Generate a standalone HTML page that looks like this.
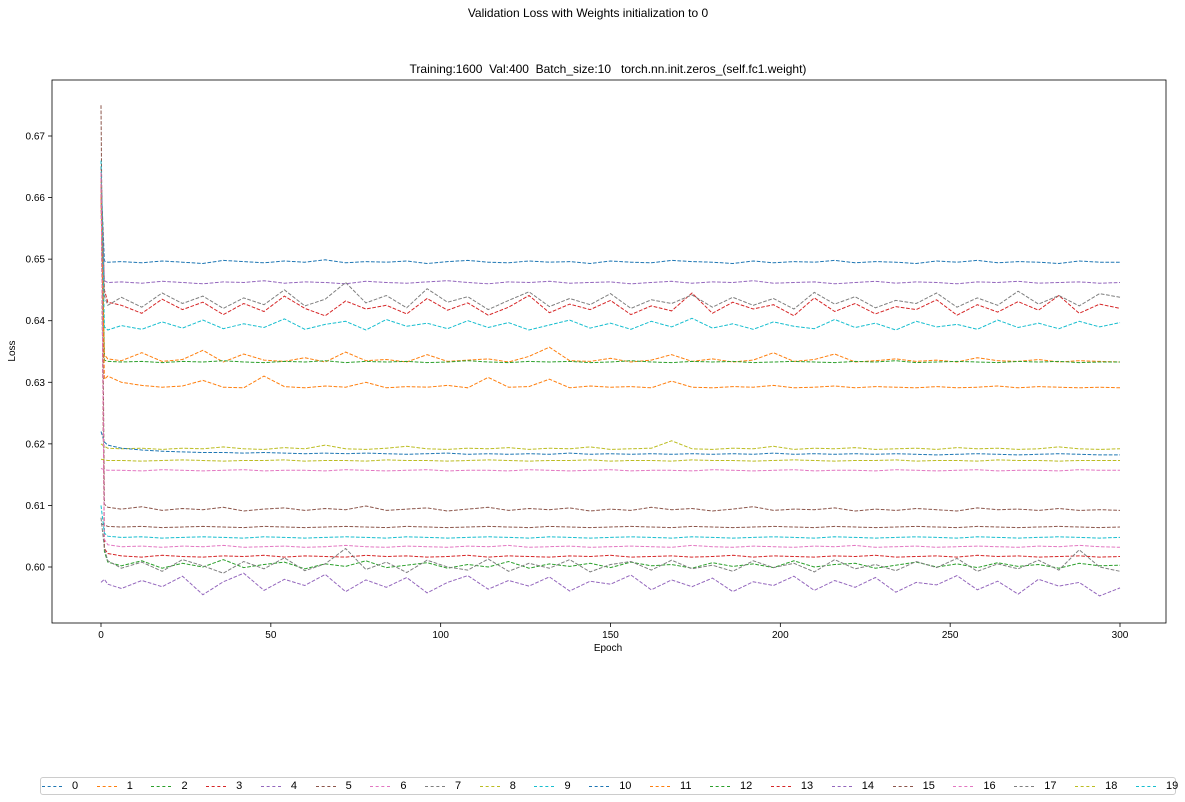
<!DOCTYPE html>
<html><head><meta charset="utf-8"><style>
body{margin:0;background:#fff;font-family:"Liberation Sans","DejaVu Sans",sans-serif;}
#wrap{position:relative;width:1185px;height:802px;overflow:hidden;}
.legend{position:absolute;left:40px;top:777px;width:1136px;height:18px;border:1px solid #ccc;border-radius:3px;display:flex;align-items:center;font-size:11px;color:#000;box-sizing:border-box;padding-left:1px;}
.le{display:flex;align-items:center;margin-right:18.6px;}
.sw{width:20px;height:0;border-top:1px dashed;margin-right:10px;}
</style></head><body><div id="wrap">
<svg id="chart" width="1185" height="802" style="position:absolute;left:0;top:0">
<text x="588" y="17" text-anchor="middle" font-size="12">Validation Loss with Weights initialization to 0</text>
<text x="608" y="73" text-anchor="middle" font-size="12" style="white-space:pre" xml:space="preserve">Training:1600  Val:400  Batch_size:10   torch.nn.init.zeros_(self.fc1.weight)</text>
<g id="ticks"></g><g id="lines"></g>
<rect x="52" y="80" width="1114" height="543" fill="none" stroke="#000" stroke-width="0.8"/>
<text x="608" y="651" text-anchor="middle" font-size="10">Epoch</text>
<text transform="translate(15,351) rotate(-90)" text-anchor="middle" font-size="10">Loss</text>
</svg>
<div class="legend" id="legend"></div>
</div>
<script>
const epochs=[0,1,2,6,12,18,24,30,36,42,48,54,60,66,72,78,84,90,96,102,108,114,120,126,132,138,144,150,156,162,168,174,180,186,192,198,204,210,216,222,228,234,240,246,252,258,264,270,276,282,288,294,300];
const xTicks=[0,50,100,150,200,250,300];
const yTicks=[0.60,0.61,0.62,0.63,0.64,0.65,0.66,0.67];
const yTickLabels=["0.60","0.61","0.62","0.63","0.64","0.65","0.66","0.67"];
const colors=["#1f77b4","#ff7f0e","#2ca02c","#d62728","#9467bd","#8c564b","#e377c2","#7f7f7f","#bcbd22","#17becf","#1f77b4","#ff7f0e","#2ca02c","#d62728","#9467bd","#8c564b","#e377c2","#7f7f7f","#bcbd22","#17becf"];
const s0=[0.663,0.6497,0.6495,0.6496,0.6494,0.6497,0.6495,0.6493,0.6498,0.6496,0.6494,0.6497,0.6495,0.6499,0.6494,0.6496,0.6495,0.6497,0.6493,0.6496,0.6498,0.6495,0.6494,0.6497,0.6495,0.6496,0.6493,0.6497,0.6495,0.6494,0.6498,0.6496,0.6495,0.6493,0.6497,0.6494,0.6496,0.6495,0.6498,0.6494,0.6496,0.6495,0.6493,0.6497,0.6495,0.6498,0.6494,0.6496,0.6495,0.6493,0.6497,0.6495,0.6495];
const s1=[0.660,0.6345,0.6338,0.6335,0.6348,0.6334,0.6337,0.6352,0.6333,0.6346,0.6336,0.6334,0.6340,0.6333,0.6349,0.6335,0.6337,0.6333,0.6345,0.6334,0.6336,0.6338,0.6333,0.6342,0.6357,0.6335,0.6334,0.6339,0.6333,0.6336,0.6345,0.6334,0.6338,0.6333,0.6336,0.6348,0.6334,0.6337,0.6346,0.6333,0.6335,0.6338,0.6334,0.6336,0.6333,0.6340,0.6335,0.6334,0.6337,0.6333,0.6335,0.6334,0.6333];
const s2=[0.664,0.6336,0.6334,0.6333,0.6334,0.6332,0.6334,0.6333,0.6335,0.6333,0.6332,0.6334,0.6333,0.6335,0.6332,0.6334,0.6333,0.6334,0.6332,0.6333,0.6335,0.6333,0.6332,0.6334,0.6333,0.6334,0.6332,0.6333,0.6335,0.6333,0.6332,0.6334,0.6333,0.6334,0.6332,0.6333,0.6334,0.6333,0.6332,0.6334,0.6333,0.6335,0.6332,0.6333,0.6334,0.6333,0.6332,0.6334,0.6333,0.6334,0.6332,0.6333,0.6333];
const s3=[0.665,0.645,0.643,0.6425,0.6412,0.6435,0.6418,0.6430,0.6410,0.6428,0.6415,0.6440,0.6420,0.6408,0.6432,0.6419,0.6425,0.6411,0.6436,0.6417,0.6429,0.6409,0.6422,0.6441,0.6413,0.6427,0.6418,0.6433,0.6410,0.6424,0.6416,0.6445,0.6412,0.6430,0.6419,0.6426,0.6408,0.6437,0.6415,0.6428,0.6411,0.6423,0.6418,0.6434,0.6409,0.6426,0.6414,0.6431,0.6417,0.6441,0.6412,0.6427,0.6420];
const s4=[0.662,0.6465,0.6462,0.6463,0.6461,0.6464,0.6462,0.6460,0.6463,0.6462,0.6465,0.6461,0.6463,0.6462,0.6460,0.6464,0.6462,0.6461,0.6463,0.6465,0.6462,0.6460,0.6463,0.6462,0.6464,0.6461,0.6462,0.6463,0.6460,0.6462,0.6464,0.6461,0.6463,0.6462,0.6465,0.6461,0.6462,0.6463,0.6460,0.6462,0.6464,0.6461,0.6463,0.6462,0.6460,0.6463,0.6462,0.6464,0.6461,0.6462,0.6463,0.6461,0.6462];
const s5=[0.675,0.6102,0.6097,0.6094,0.6098,0.6092,0.6095,0.6093,0.6097,0.6091,0.6094,0.6096,0.6092,0.6095,0.6093,0.6099,0.6092,0.6094,0.6096,0.6091,0.6094,0.6097,0.6092,0.6095,0.6093,0.6096,0.6091,0.6094,0.6092,0.6097,0.6093,0.6095,0.6091,0.6094,0.6098,0.6092,0.6094,0.6093,0.6096,0.6091,0.6094,0.6092,0.6095,0.6093,0.6091,0.6096,0.6093,0.6094,0.6092,0.6095,0.6092,0.6093,0.6092];
const s6=[0.6160,0.6158,0.6157,0.6157,0.6156,0.6158,0.6157,0.6156,0.6157,0.6158,0.6156,0.6157,0.6157,0.6156,0.6158,0.6157,0.6156,0.6157,0.6158,0.6156,0.6157,0.6157,0.6156,0.6158,0.6157,0.6156,0.6157,0.6158,0.6156,0.6157,0.6157,0.6156,0.6158,0.6157,0.6156,0.6157,0.6158,0.6156,0.6157,0.6157,0.6156,0.6158,0.6157,0.6156,0.6157,0.6158,0.6156,0.6157,0.6157,0.6156,0.6158,0.6157,0.6157];
const s7=[0.664,0.6440,0.6425,0.6438,0.6422,0.6445,0.6428,0.6440,0.6420,0.6437,0.6426,0.6450,0.6424,0.6435,0.6462,0.6429,0.6441,0.6421,0.6452,0.6430,0.6439,0.6418,0.6433,0.6447,0.6423,0.6436,0.6426,0.6444,0.6420,0.6434,0.6428,0.6442,0.6422,0.6438,0.6425,0.6436,0.6419,0.6446,0.6427,0.6439,0.6421,0.6433,0.6428,0.6445,0.6422,0.6437,0.6425,0.6448,0.6427,0.6441,0.6424,0.6444,0.6438];
const s8=[0.6200,0.6196,0.6193,0.6192,0.6193,0.6191,0.6193,0.6192,0.6195,0.6192,0.6191,0.6194,0.6192,0.6198,0.6192,0.6191,0.6193,0.6196,0.6192,0.6191,0.6193,0.6192,0.6194,0.6191,0.6193,0.6192,0.6195,0.6191,0.6192,0.6193,0.6205,0.6192,0.6191,0.6193,0.6192,0.6196,0.6191,0.6193,0.6192,0.6194,0.6191,0.6192,0.6193,0.6191,0.6194,0.6192,0.6193,0.6191,0.6192,0.6195,0.6192,0.6191,0.6192];
const s9=[0.666,0.6390,0.6385,0.6392,0.6386,0.6398,0.6388,0.6401,0.6387,0.6395,0.6389,0.6403,0.6386,0.6394,0.6399,0.6385,0.6402,0.6391,0.6396,0.6387,0.6400,0.6389,0.6397,0.6385,0.6393,0.6401,0.6388,0.6396,0.6386,0.6399,0.6390,0.6404,0.6388,0.6395,0.6386,0.6398,0.6391,0.6387,0.6402,0.6389,0.6396,0.6385,0.6399,0.6390,0.6394,0.6386,0.6401,0.6389,0.6396,0.6387,0.6399,0.6390,0.6397];
const s10=[0.6220,0.6203,0.6198,0.6193,0.6190,0.6188,0.6187,0.6186,0.6186,0.6185,0.6186,0.6185,0.6184,0.6185,0.6184,0.6185,0.6184,0.6183,0.6184,0.6185,0.6183,0.6184,0.6183,0.6184,0.6183,0.6185,0.6183,0.6184,0.6183,0.6184,0.6183,0.6184,0.6183,0.6184,0.6183,0.6185,0.6183,0.6184,0.6183,0.6184,0.6183,0.6184,0.6183,0.6182,0.6183,0.6184,0.6183,0.6182,0.6183,0.6184,0.6183,0.6182,0.6182];
const s11=[0.663,0.6305,0.6310,0.6300,0.6295,0.6292,0.6294,0.6303,0.6292,0.6291,0.6310,0.6293,0.6291,0.6294,0.6292,0.6300,0.6291,0.6293,0.6292,0.6295,0.6291,0.6308,0.6292,0.6293,0.6305,0.6291,0.6294,0.6292,0.6293,0.6291,0.6302,0.6292,0.6291,0.6293,0.6292,0.6295,0.6291,0.6292,0.6294,0.6291,0.6293,0.6292,0.6291,0.6293,0.6291,0.6292,0.6294,0.6291,0.6293,0.6292,0.6291,0.6292,0.6291];
const s12=[0.6640,0.6025,0.6008,0.6002,0.6010,0.5998,0.6006,0.6000,0.6012,0.5999,0.6004,0.6008,0.5997,0.6005,0.6001,0.6010,0.5999,0.6003,0.6007,0.5998,0.6004,0.6000,0.6009,0.5998,0.6005,0.6001,0.6006,0.5999,0.6008,0.6002,0.6004,0.5998,0.6007,0.6001,0.6005,0.5999,0.6010,0.6000,0.6004,0.6006,0.5998,0.6003,0.6008,0.6000,0.6005,0.5999,0.6007,0.6001,0.6004,0.5998,0.6006,0.6002,0.6003];
const s13=[0.6640,0.6030,0.6022,0.6018,0.6016,0.6019,0.6017,0.6016,0.6018,0.6017,0.6019,0.6016,0.6018,0.6017,0.6016,0.6019,0.6017,0.6018,0.6016,0.6017,0.6019,0.6016,0.6018,0.6017,0.6016,0.6018,0.6017,0.6019,0.6016,0.6017,0.6018,0.6016,0.6017,0.6019,0.6016,0.6018,0.6017,0.6016,0.6018,0.6017,0.6019,0.6016,0.6017,0.6018,0.6016,0.6019,0.6017,0.6018,0.6016,0.6017,0.6018,0.6016,0.6017];
const s14=[0.5975,0.5980,0.5972,0.5965,0.5978,0.5968,0.5985,0.5955,0.5976,0.5990,0.5962,0.5980,0.5970,0.5988,0.5960,0.5979,0.5967,0.5983,0.5958,0.5975,0.5986,0.5964,0.5978,0.5969,0.5984,0.5961,0.5977,0.5972,0.5987,0.5963,0.5979,0.5968,0.5982,0.5960,0.5976,0.5970,0.5985,0.5962,0.5978,0.5967,0.5983,0.5959,0.5975,0.5971,0.5986,0.5963,0.5977,0.5956,0.5980,0.5969,0.5975,0.5953,0.5966];
const s15=[0.6070,0.6068,0.6066,0.6065,0.6066,0.6064,0.6065,0.6066,0.6065,0.6064,0.6066,0.6065,0.6064,0.6065,0.6066,0.6065,0.6064,0.6066,0.6065,0.6064,0.6065,0.6066,0.6065,0.6064,0.6066,0.6065,0.6064,0.6065,0.6066,0.6065,0.6064,0.6066,0.6065,0.6064,0.6065,0.6066,0.6065,0.6064,0.6066,0.6065,0.6064,0.6065,0.6066,0.6065,0.6064,0.6066,0.6065,0.6064,0.6065,0.6066,0.6065,0.6064,0.6065];
const s16=[0.6640,0.6045,0.6036,0.6033,0.6034,0.6032,0.6034,0.6033,0.6035,0.6032,0.6033,0.6034,0.6032,0.6033,0.6035,0.6033,0.6032,0.6034,0.6033,0.6032,0.6034,0.6033,0.6035,0.6032,0.6033,0.6034,0.6032,0.6033,0.6034,0.6033,0.6032,0.6035,0.6033,0.6032,0.6034,0.6033,0.6032,0.6034,0.6033,0.6035,0.6032,0.6033,0.6034,0.6032,0.6033,0.6034,0.6033,0.6032,0.6034,0.6033,0.6035,0.6033,0.6032];
const s17=[0.6080,0.6030,0.6010,0.5998,0.6008,0.5993,0.6012,0.6002,0.5990,0.6009,0.5997,0.6015,0.5994,0.6005,0.6030,0.5996,0.6008,0.5991,0.6011,0.6000,0.5995,0.6013,0.5993,0.6006,0.5998,0.6012,0.5992,0.6004,0.6009,0.5995,0.6011,0.5997,0.6003,0.5993,0.6010,0.5999,0.6006,0.5992,0.6012,0.5997,0.6004,0.5994,0.6009,0.5999,0.6014,0.5993,0.6005,0.5997,0.6011,0.5995,0.6028,0.6000,0.5993];
const s18=[0.6175,0.6174,0.6173,0.6173,0.6172,0.6173,0.6174,0.6173,0.6172,0.6173,0.6173,0.6174,0.6172,0.6173,0.6173,0.6172,0.6174,0.6173,0.6173,0.6172,0.6173,0.6174,0.6173,0.6172,0.6173,0.6173,0.6174,0.6172,0.6173,0.6173,0.6172,0.6174,0.6173,0.6173,0.6172,0.6173,0.6174,0.6173,0.6172,0.6173,0.6173,0.6174,0.6172,0.6173,0.6173,0.6172,0.6174,0.6173,0.6173,0.6172,0.6173,0.6173,0.6173];
const s19=[0.6100,0.6055,0.6050,0.6048,0.6049,0.6047,0.6048,0.6049,0.6048,0.6047,0.6049,0.6048,0.6047,0.6048,0.6049,0.6048,0.6047,0.6049,0.6048,0.6047,0.6048,0.6049,0.6048,0.6047,0.6049,0.6048,0.6047,0.6048,0.6049,0.6048,0.6047,0.6049,0.6048,0.6047,0.6048,0.6049,0.6048,0.6047,0.6049,0.6048,0.6047,0.6048,0.6049,0.6048,0.6047,0.6049,0.6048,0.6047,0.6048,0.6049,0.6048,0.6047,0.6048];
const series=[s0,s1,s2,s3,s4,s5,s6,s7,s8,s9,s10,s11,s12,s13,s14,s15,s16,s17,s18,s19];
const labels=["0","1","2","3","4","5","6","7","8","9","10","11","12","13","14","15","16","17","18","19"];

const NS="http://www.w3.org/2000/svg";
function xs(e){return 101+(e-0)*(1120-101)/300;}
function ys(v){return 567+(v-0.60)*(136-567)/0.07;}
const tg=document.getElementById('ticks');
function mk(tag,attrs,parent){const el=document.createElementNS(NS,tag);for(const k in attrs)el.setAttribute(k,attrs[k]);parent.appendChild(el);return el;}
xTicks.forEach(t=>{
  const l=mk('line',{x1:xs(t),x2:xs(t),y1:623,y2:627,stroke:'#000','stroke-width':0.8},tg);
  
  
  const tx=mk('text',{x:xs(t),y:638,'text-anchor':'middle','font-size':10},tg);
  tx.textContent=t;
  
  
});
yTicks.forEach((t,i)=>{
  const l=mk('line',{x1:48,x2:52,y1:ys(t),y2:ys(t),stroke:'#000','stroke-width':0.8},tg);
  
  
  const tx=mk('text',{x:45,y:ys(t)+3.5,'text-anchor':'end','font-size':10},tg);
  tx.textContent=yTickLabels[i];
  
  
});
const lg=document.getElementById('lines');
series.forEach((s,i)=>{
  const n=Math.min(s.length,epochs.length);
  let d='';
  for(let k=0;k<n;k++){d+=(k?'L':'M')+xs(epochs[k]).toFixed(1)+','+ys(s[k]).toFixed(1);}
  const p=mk('path',{d:d,fill:'none',stroke:colors[i],'stroke-width':1,'stroke-dasharray':'3.7,1.6'},lg);
  
  
});
const leg=document.getElementById('legend');
labels.forEach((lb,i)=>{
  const e=document.createElement('div');e.className='le';
  
  
  const sw=document.createElement('div');sw.className='sw';sw.style.borderTopColor=colors[i];
  
  
  const t=document.createElement('span');t.textContent=lb;
  
  
  e.appendChild(sw);e.appendChild(t);leg.appendChild(e);
});
</script></body></html>
